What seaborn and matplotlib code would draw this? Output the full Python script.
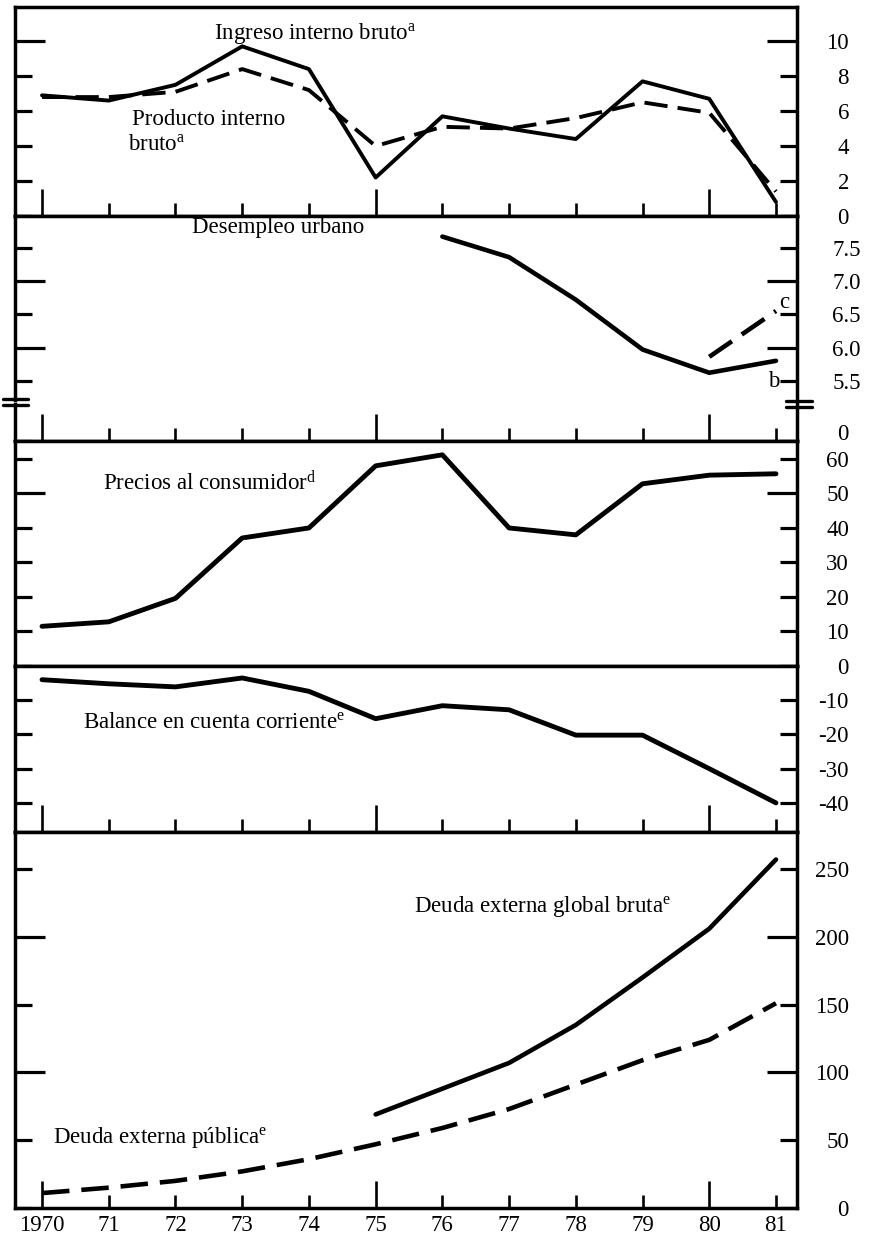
import matplotlib
matplotlib.use("Agg")
import matplotlib.pyplot as plt
from matplotlib.lines import Line2D
from matplotlib.transforms import ScaledTranslation
import pandas as pd
import seaborn as sns

# ---------------------------------------------------------------- data
years = list(range(1970, 1982))
year_labels = ["1970", "71", "72", "73", "74", "75", "76", "77", "78", "79", "80", "81"]

# Tasas de crecimiento (%)
ingreso_interno_bruto = [6.9, 6.6, 7.5, 9.7, 8.4, 2.2, 5.7, 5.0, 4.4, 7.7, 6.7, 0.8]
producto_interno_bruto = [6.8, 6.8, 7.1, 8.4, 7.2, 4.0, 5.1, 5.0, 5.6, 6.5, 5.9, 1.4]

# Desempleo urbano (%)
desempleo_b_years = [1976, 1977, 1978, 1979, 1980, 1981]
desempleo_b = [7.67, 7.36, 6.72, 5.97, 5.62, 5.80]
desempleo_c_years = [1980, 1981]
desempleo_c = [5.86, 6.55]

# Precios al consumidor (%)
precios_consumidor = [11.5, 12.8, 19.6, 37.1, 40.0, 58.0, 61.2, 40.0, 38.0, 52.8, 55.3, 55.7]

# Balance en cuenta corriente (miles de millones de dolares)
balance_cuenta = [-4.0, -5.2, -6.1, -3.5, -7.4, -15.4, -11.6, -12.8, -20.2, -20.2, -30.0, -40.0]

# Deuda externa (miles de millones de dolares)
deuda_global_years = [1975, 1976, 1977, 1978, 1979, 1980, 1981]
deuda_global_bruta = [69, 88, 107, 135, 170, 206, 257]
deuda_publica = [11, 15, 20, 27, 36, 47, 59, 73, 91, 109, 124, 151]

# ---------------------------------------------------------------- style
sns.set_theme(style="white")
plt.rcParams["font.family"] = ["Liberation Serif", "DejaVu Serif"]
plt.rcParams["mathtext.fontset"] = "custom"
plt.rcParams["mathtext.rm"] = "Liberation Serif"
plt.rcParams["mathtext.it"] = "Liberation Serif:italic"
plt.rcParams["font.size"] = 16.5
plt.rcParams["xtick.labelsize"] = 16.5
plt.rcParams["ytick.labelsize"] = 16.5

W, H = 869, 1241
fig = plt.figure(figsize=(W / 100, H / 100), dpi=100, facecolor="white")

X_LEFT, X_RIGHT = 15, 797
PT = 0.72  # points per pixel at 100 dpi
SPINE_W = 2.5
XLIM = (1969.595, 1981.315)


def panel(top, bottom):
    ax = fig.add_axes([X_LEFT / W, 1 - bottom / H, (X_RIGHT - X_LEFT) / W, (bottom - top) / H])
    ax.set_facecolor("white")
    for s in ax.spines.values():
        s.set_color("black")
        s.set_linewidth(SPINE_W)
    ax.set_xlim(*XLIM)
    return ax


def year_ticks(ax, show_labels=False):
    major = [1970, 1975, 1980]
    minor = [y for y in years if y not in major]
    lab = dict(zip(years, year_labels))
    ax.set_xticks(major, [lab[y] for y in major] if show_labels else [])
    ax.set_xticks(minor, [lab[y] for y in minor] if show_labels else [], minor=True)
    ax.tick_params(axis="x", which="major", direction="in", length=27 * PT, width=1.9,
                   bottom=True, top=False, labelbottom=show_labels, pad=5, colors="black")
    ax.tick_params(axis="x", which="minor", direction="in", length=13 * PT, width=1.9,
                   bottom=True, top=False, labelbottom=show_labels, pad=5, colors="black")


def no_year_ticks(ax):
    ax.set_xticks([])
    ax.set_xticks([], minor=True)
    ax.tick_params(axis="x", which="both", bottom=False, top=False, labelbottom=False)


def value_ticks(ax, major, minor, fmt, pad_px=52):
    ax.set_yticks(major, [fmt(v) for v in major])
    ax.set_yticks(minor, [fmt(v) for v in minor], minor=True)
    ax.tick_params(axis="y", which="major", direction="in", length=30 * PT, width=2.3,
                   left=True, right=True, labelleft=False, labelright=True,
                   pad=pad_px * PT, colors="black")
    ax.tick_params(axis="y", which="minor", direction="in", length=17 * PT, width=2.3,
                   left=True, right=True, labelleft=False, labelright=True,
                   pad=pad_px * PT, colors="black")
    plt.setp(ax.yaxis.get_ticklabels(which="both"), ha="right")


def line(ax, x, y, dashed=False, lw=3.0):
    df = pd.DataFrame({"anio": x, "valor": y})
    kws = dict(color="black", linewidth=lw, legend=False)
    if dashed:
        kws["linestyle"] = (0, (6, 2.6))
    sns.lineplot(data=df, x="anio", y="valor", ax=ax, **kws)
    ax.set_xlabel("")
    ax.set_ylabel("")


def label(ax, x, y, s):
    ax.text(x, y, s, ha="left", va="baseline", fontsize=16.5, color="black")


fmt_int = lambda v: f"{v:g}"
fmt_dec = lambda v: f"{v:.1f}"

# ---------------------------------------------------------------- panel 1: crecimiento
ax1 = panel(7, 216)
line(ax1, years, producto_interno_bruto, dashed=True, lw=2.8)
line(ax1, years, ingreso_interno_bruto, lw=2.8)
ax1.set_xlim(*XLIM)
ax1.set_ylim(0, 11.95)
year_ticks(ax1)
value_ticks(ax1, [10], [0, 2, 4, 6, 8], fmt_int)
label(ax1, 1972.58, 10.1, r"Ingreso interno bruto$^{\mathrm{a}}$")
label(ax1, 1971.35, 5.23, "Producto interno")
label(ax1, 1971.29, 3.79, r"bruto$^{\mathrm{a}}$")

# ---------------------------------------------------------------- panel 2: desempleo (eje cortado)
ax2 = panel(216, 400)
ax2.spines["bottom"].set_visible(False)
line(ax2, desempleo_b_years, desempleo_b, lw=3.3)
line(ax2, desempleo_c_years, desempleo_c, dashed=True, lw=3.3)
ax2.set_xlim(*XLIM)
ax2.set_ylim(5.21, 7.98)
no_year_ticks(ax2)
value_ticks(ax2, [6.0, 7.0], [5.5, 6.5, 7.5], fmt_dec, pad_px=64)
label(ax2, 1972.25, 7.73, "Desempleo urbano")
label(ax2, 1981.04, 6.60, "c")
label(ax2, 1980.88, 5.41, "b")

ax2b = panel(404, 441)
ax2b.spines["top"].set_visible(False)
ax2b.set_ylim(0, 1)
year_ticks(ax2b)
value_ticks(ax2b, [], [0], fmt_int)
# the zero of the broken axis sits just above the baseline
for t in ax2b.yaxis.get_ticklabels(which="both"):
    t.set_transform(t.get_transform() + ScaledTranslation(0, 9 / 100, fig.dpi_scale_trans))

# break marks on both vertical axes
for (x0, x1, ys) in [(3, 28, (399, 405)), (786, 812, (401, 407))]:
    for yy in ys:
        fig.add_artist(Line2D([x0 / W, x1 / W], [1 - yy / H, 1 - yy / H],
                              transform=fig.transFigure, color="black", lw=2.4))

# ---------------------------------------------------------------- panel 3: precios
ax3 = panel(441, 666)
line(ax3, years, precios_consumidor, lw=3.5)
ax3.set_xlim(*XLIM)
ax3.set_ylim(0, 65.2)
no_year_ticks(ax3)
value_ticks(ax3, [50], [0, 10, 20, 30, 40, 60], fmt_int)
label(ax3, 1970.91, 51.0, r"Precios al consumidor$^{\mathrm{d}}$")

# ---------------------------------------------------------------- panel 4: balance
ax4 = panel(666, 832)
line(ax4, years, balance_cuenta, lw=3.5)
ax4.set_xlim(*XLIM)
ax4.set_ylim(-48.5, 0)
year_ticks(ax4)
value_ticks(ax4, [], [-10, -20, -30, -40], fmt_int)
label(ax4, 1970.61, -18.1, r"Balance en cuenta corriente$^{\mathrm{e}}$")

# ---------------------------------------------------------------- panel 5: deuda externa
ax5 = panel(832, 1208)
line(ax5, deuda_global_years, deuda_global_bruta, lw=3.3)
line(ax5, years, deuda_publica, dashed=True, lw=3.3)
ax5.set_xlim(*XLIM)
ax5.set_ylim(0, 277.3)
year_ticks(ax5, show_labels=True)
value_ticks(ax5, [100, 200], [0, 50, 150, 250], fmt_int)
label(ax5, 1975.57, 218, r"Deuda externa global bruta$^{\mathrm{e}}$")
label(ax5, 1970.16, 48, r"Deuda externa pública$^{\mathrm{e}}$")

fig.savefig("out.png", dpi=100, facecolor="white")
